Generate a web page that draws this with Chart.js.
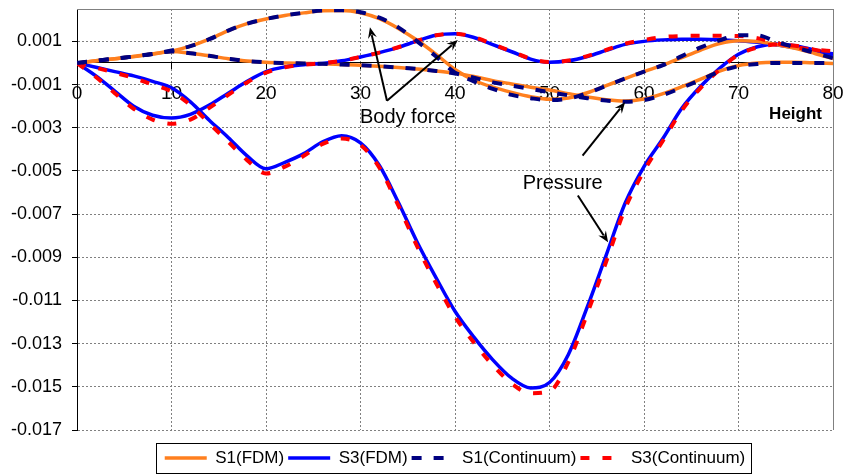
<!DOCTYPE html>
<html lang="en">
<head>
<meta charset="UTF-8">
<title>S1 / S3 body force and pressure vs height</title>
<style>
  body { margin: 0; background: #fff; }
  #wrap { width: 848px; height: 474px; }
</style>
<script src="https://cdn.jsdelivr.net/npm/chart.js"></script>
</head>
<body>
<div id="wrap"><canvas id="chart" width="848" height="474"></canvas></div>
<script>
// x positions shared by every curve
const heights = [0, 2, 4, 6, 8, 10, 12, 14, 16, 18, 20, 22, 24, 26, 28, 30, 32, 34, 36, 38, 40,
                 42, 44, 46, 48, 50, 52, 54, 56, 58, 60, 62, 64, 66, 68, 70, 72, 74, 76, 78, 80];

// S1 - body force
const s1BodyFdm = [0, 0.0001, 0.0002, 0.0003, 0.00042, 0.00055, 0.00078, 0.0011, 0.0015, 0.00182, 0.00204,
  0.0022, 0.00232, 0.00242, 0.00243, 0.00233, 0.00205, 0.0016, 0.00105, 0.0004, -0.0003,
  -0.0008, -0.00112, -0.00136, -0.00156, -0.00168, -0.00162, -0.00138, -0.00105, -0.00072, -0.0004,
  -0.0001, 0.00025, 0.0006, 0.0009, 0.00103, 0.001, 0.00086, 0.00068, 0.00045, 0.0002];
const s1BodyCont = [0, 0.0001, 0.0002, 0.0003, 0.00042, 0.00058, 0.00078, 0.0011, 0.0015, 0.00182, 0.00204,
  0.0022, 0.00233, 0.00243, 0.00244, 0.00235, 0.0021, 0.00165, 0.001, 0.0003, -0.00045,
  -0.00085, -0.0012, -0.00148, -0.00163, -0.00172, -0.00165, -0.0014, -0.00106, -0.00072, -0.0004,
  -0.0001, 0.00032, 0.00072, 0.00105, 0.00128, 0.00128, 0.00098, 0.00072, 0.00047, 0.00022];

// S1 - pressure
const s1PressFdm = [0, 0.0001, 0.0002, 0.0003, 0.00042, 0.00053, 0.00045, 0.00033, 0.0002, 0.00009, 0.00003,
  0, -0.00002, -0.00004, -0.00007, -0.0001, -0.00015, -0.00021, -0.00028, -0.00037, -0.00047,
  -0.00063, -0.00082, -0.00097, -0.00112, -0.00125, -0.00142, -0.00158, -0.0017, -0.00176, -0.00167,
  -0.00142, -0.0011, -0.00075, -0.00038, -0.00012, 0, 0.00003, 0.00003, 0.00001, -0.00002];
const s1PressCont = [0, 0.0001, 0.0002, 0.0003, 0.00042, 0.00053, 0.00045, 0.00033, 0.0002, 0.00009, 0.00003,
  0, -0.00002, -0.00004, -0.00007, -0.0001, -0.00015, -0.00021, -0.00028, -0.00037, -0.00049,
  -0.00068, -0.0009, -0.00105, -0.0012, -0.00135, -0.0015, -0.00163, -0.00174, -0.0018, -0.00172,
  -0.00148, -0.00115, -0.00078, -0.0004, -0.00015, -0.00005, 0, 0, 0, 0];

// S3 - body force
const s3BodyFdm = [0, -0.0006, -0.0013, -0.002, -0.00242, -0.00255, -0.00238, -0.00195, -0.0014, -0.00085, -0.0004,
  -0.00018, -0.00008, -0.00002, 0.0001, 0.00028, 0.00048, 0.00072, 0.00102, 0.00128, 0.00135,
  0.00118, 0.00085, 0.00052, 0.00018, 0.00003, 0.0001, 0.0003, 0.00058, 0.00086, 0.001,
  0.00107, 0.0011, 0.0011, 0.00108, 0.00103, 0.00096, 0.00084, 0.0007, 0.00052, 0.00036];
const s3BodyCont = [0, -0.00065, -0.0014, -0.00212, -0.00262, -0.00282, -0.00262, -0.00208, -0.00148, -0.0009, -0.00045,
  -0.0002, -0.00008, -0.00001, 0.0001, 0.00028, 0.00048, 0.00073, 0.00103, 0.00128, 0.00136,
  0.0012, 0.00087, 0.00053, 0.0002, 0.00004, 0.00011, 0.00032, 0.0006, 0.00089, 0.00106,
  0.0012, 0.00125, 0.00126, 0.00126, 0.00125, 0.00115, 0.00092, 0.00074, 0.00062, 0.00055];

// S3 - pressure
const s3PressFdm = [0, -0.0002, -0.0004, -0.0006, -0.00085, -0.00115, -0.0018, -0.00265, -0.00345, -0.0043, -0.0049,
  -0.0046, -0.0042, -0.00365, -0.00337, -0.0037, -0.00475, -0.00645, -0.0083, -0.00995, -0.0115,
  -0.0127, -0.01375, -0.0146, -0.01505, -0.0148, -0.0135, -0.0113, -0.0089, -0.0065, -0.0048,
  -0.0035, -0.0021, -0.00108, -0.00025, 0.0004, 0.00075, 0.00088, 0.0008, 0.0006, 0.00042];
const s3PressCont = [0, -0.00022, -0.00045, -0.0007, -0.001, -0.00132, -0.00195, -0.0028, -0.00365, -0.0045, -0.00512,
  -0.0048, -0.0043, -0.00375, -0.0035, -0.0038, -0.00485, -0.0066, -0.0085, -0.0102, -0.01175,
  -0.01295, -0.014, -0.01485, -0.0153, -0.0152, -0.01385, -0.0116, -0.0092, -0.00675, -0.005,
  -0.0036, -0.0022, -0.00115, -0.0003, 0.00038, 0.00072, 0.00085, 0.0008, 0.00062, 0.00045];

const yTickValues = [-0.017, -0.015, -0.013, -0.011, -0.009, -0.007, -0.005, -0.003, -0.001, 0.001];

// callouts, in data coordinates
const callouts = [
  { text: 'Body force', at: [35.0, -0.00253], arrows: [[[32.8, -0.00175], [31.0, 0.00165]], [[32.8, -0.00175], [40.3, 0.00106]]] },
  { text: 'Pressure', at: [51.4, -0.00559], arrows: [[[53.5, -0.00429], [58.0, -0.00182]], [[53.0, -0.00614], [56.2, -0.0083]]] }
];

const ORANGE = '#ff7f1e', BLUE = '#0000ff', NAVY = '#000080', RED = '#ff0000';

function line(label, values, color, dash, order) {
  return {
    label: label,
    data: values.map((v, i) => ({ x: heights[i], y: v })),
    borderColor: color,
    backgroundColor: color,
    borderWidth: dash ? 4 : 3.5,
    borderDash: dash || [],
    borderCapStyle: 'butt',
    pointRadius: 0,
    cubicInterpolationMode: 'monotone',
    fill: false,
    order: order
  };
}

const decor = {
  id: 'decor',
  beforeDatasetsDraw(chart) {
    const { ctx, chartArea: a } = chart;
    ctx.save();
    ctx.strokeStyle = '#808080';
    ctx.lineWidth = 1;
    ctx.beginPath();
    ctx.moveTo(a.left, a.top + 0.5);
    ctx.lineTo(a.right + 0.5, a.top + 0.5);
    ctx.lineTo(a.right + 0.5, a.bottom);
    ctx.stroke();
    ctx.restore();
  },
  afterDatasetsDraw(chart) {
    const { ctx, chartArea: a, scales: { x, y } } = chart;
    ctx.save();
    ctx.fillStyle = '#000';
    ctx.strokeStyle = '#000';
    ctx.lineWidth = 2;
    callouts.forEach(c => {
      c.arrows.forEach(([p, q]) => {
        const x1 = x.getPixelForValue(p[0]), y1 = y.getPixelForValue(p[1]);
        const x2 = x.getPixelForValue(q[0]), y2 = y.getPixelForValue(q[1]);
        const ang = Math.atan2(y2 - y1, x2 - x1);
        ctx.beginPath();
        ctx.moveTo(x1, y1);
        ctx.lineTo(x2 - 8 * Math.cos(ang), y2 - 8 * Math.sin(ang));
        ctx.stroke();
        ctx.beginPath();
        ctx.moveTo(x2, y2);
        ctx.lineTo(x2 - 11 * Math.cos(ang) + 4.5 * Math.sin(ang), y2 - 11 * Math.sin(ang) - 4.5 * Math.cos(ang));
        ctx.lineTo(x2 - 7 * Math.cos(ang), y2 - 7 * Math.sin(ang));
        ctx.lineTo(x2 - 11 * Math.cos(ang) - 4.5 * Math.sin(ang), y2 - 11 * Math.sin(ang) + 4.5 * Math.cos(ang));
        ctx.closePath();
        ctx.fill();
      });
      ctx.font = '20px "Liberation Sans", Arial, sans-serif';
      ctx.textAlign = 'center';
      ctx.textBaseline = 'middle';
      ctx.fillText(c.text, x.getPixelForValue(c.at[0]), y.getPixelForValue(c.at[1]));
    });
    // axis title sits under the 80 label
    ctx.font = 'bold 17px "Liberation Sans", Arial, sans-serif';
    ctx.textAlign = 'right';
    ctx.textBaseline = 'middle';
    ctx.fillText('Height', a.right - 11, y.getPixelForValue(0) + 51);
    ctx.restore();
  },
  afterDraw(chart) {
    const hb = chart.legend.legendHitBoxes;
    if (!hb.length) return;
    const ctx = chart.ctx;
    const last = hb[hb.length - 1];
    const cy = hb[0].top + hb[0].height / 2;
    ctx.save();
    ctx.strokeStyle = '#000';
    ctx.lineWidth = 1;
    ctx.strokeRect(Math.round(hb[0].left - 9) + 0.5, Math.round(cy - 15) + 0.5,
      Math.round(last.left + last.width + 5 - hb[0].left + 9), 30);
    ctx.restore();
  }
};

Chart.defaults.font.family = '"Liberation Sans", Arial, sans-serif';
Chart.defaults.color = '#000';

new Chart(document.getElementById('chart'), {
  type: 'line',
  data: {
    datasets: [
      line('S1(FDM)', s1BodyFdm, ORANGE, null, 2),
      line('S3(FDM)', s3BodyFdm, BLUE, null, 2),
      line('S1(Continuum)', s1BodyCont, NAVY, [10, 12], 1),
      line('S3(Continuum)', s3BodyCont, RED, [9, 13], 1),
      line('S1(FDM) pressure', s1PressFdm, ORANGE, null, 2),
      line('S3(FDM) pressure', s3PressFdm, BLUE, null, 2),
      line('S1(Continuum) pressure', s1PressCont, NAVY, [10, 12], 1),
      line('S3(Continuum) pressure', s3PressCont, RED, [9, 13], 1)
    ]
  },
  options: {
    responsive: false,
    animation: false,
    // the legend reserves 10px of empty space under its row, hence the negative bottom padding
    layout: { padding: { top: 9, right: 15, bottom: -2.5, left: 0 } },
    plugins: {
      tooltip: { enabled: false },
      legend: {
        position: 'bottom',
        fullSize: false,
        labels: {
          usePointStyle: true,
          pointStyle: 'line',
          pointStyleWidth: 42,
          font: { size: 17 },
          padding: 4,
          filter: item => item.datasetIndex < 4,
          sort: (a, b) => a.datasetIndex - b.datasetIndex,
          generateLabels: chart => Chart.defaults.plugins.legend.labels.generateLabels(chart).map(item => {
            const ds = chart.data.datasets[item.datasetIndex];
            item.lineDash = ds.borderDash;
            item.lineWidth = ds.borderWidth;
            item.strokeStyle = ds.borderColor;
            return item;
          })
        },
        title: { display: true, text: '', font: { size: 10, lineHeight: 1 }, padding: { top: 5.5, bottom: 0 } }
      }
    },
    scales: {
      x: {
        type: 'linear',
        position: { y: 0 },
        min: 0,
        max: 80,
        ticks: { stepSize: 10, font: { size: 19 }, padding: 13, maxRotation: 0 },
        grid: { color: '#808080', tickColor: '#000', tickLength: 6 },
        border: { color: '#000', width: 1, dash: [2, 2] },
        afterFit: s => { s.height = 0; s.paddingLeft = 0; s.paddingRight = 0; }
      },
      y: {
        min: -0.017,
        max: 0.0025,
        afterBuildTicks: s => { s.ticks = yTickValues.map(v => ({ value: v })); },
        ticks: { font: { size: 18 }, padding: 10, callback: v => v.toFixed(3) },
        grid: { color: '#808080', tickColor: '#000', tickLength: 5 },
        border: { color: '#000', width: 1, dash: [2, 2] },
        afterFit: s => { s.width = 77; s.paddingTop = 0; s.paddingBottom = 0; }
      }
    }
  },
  plugins: [decor]
});
</script>
</body>
</html>
